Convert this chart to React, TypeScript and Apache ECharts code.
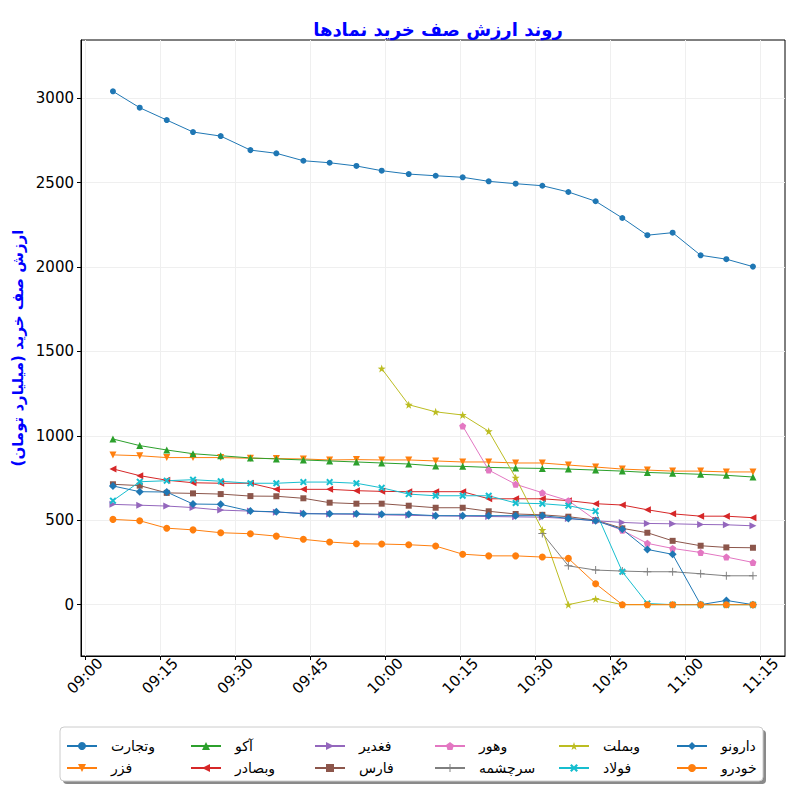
import { useEffect, useRef } from "react";
import * as echarts from "echarts";

const times = [
  "09:05:35", "09:10:56", "09:16:20", "09:21:35", "09:27:07", "09:33:03", "09:38:14",
  "09:43:38", "09:48:53", "09:54:14", "09:59:17", "10:04:41", "10:10:04", "10:15:28",
  "10:20:40", "10:26:03", "10:31:23", "10:36:35", "10:42:02", "10:47:22", "10:52:22",
  "10:57:25", "11:03:01", "11:08:09", "11:13:28",
];

const vtejarat = [3040, 2943, 2870, 2799, 2775, 2692, 2673, 2629, 2617, 2598, 2570, 2550, 2540, 2531, 2507, 2493, 2481, 2444, 2389, 2290, 2188, 2203, 2069, 2046, 2002];
const fazar = [887, 882, 871, 871, 871, 867, 865, 863, 857, 859, 857, 857, 851, 845, 845, 839, 839, 827, 815, 803, 797, 791, 791, 786, 786];
const akoo = [981, 942, 916, 894, 882, 869, 863, 857, 851, 845, 839, 833, 821, 819, 813, 809, 807, 803, 797, 791, 783, 778, 772, 766, 756];
const vbsader = [804, 764, 737, 722, 719, 719, 683, 683, 683, 675, 671, 669, 669, 669, 627, 627, 627, 616, 598, 590, 562, 538, 524, 524, 515];
const fghadir = [594, 589, 584, 575, 560, 554, 548, 541, 537, 535, 532, 529, 526, 524, 522, 520, 518, 510, 497, 487, 481, 479, 475, 473, 467];
const fars = [713, 705, 662, 659, 655, 643, 642, 630, 604, 598, 598, 586, 574, 574, 553, 537, 532, 521, 501, 452, 426, 378, 349, 339, 337];
const vahour = [null, null, null, null, null, null, null, null, null, null, null, null, null, 1058, 797, 713, 663, 616, 501, 440, 363, 333, 309, 282, 250];
const sarcheshmeh = [null, null, null, null, null, null, null, null, null, null, null, null, null, null, null, null, 422, 230, 205, 199, 195, 195, 183, 171, 171];
const vbmellat = [null, null, null, null, null, null, null, null, null, null, 1398, 1184, 1142, 1123, 1027, 752, 442, 0, 34, 0, 0, 0, 0, 0, 0];
const foolad = [616, 728, 734, 740, 731, 719, 719, 726, 726, 719, 692, 655, 645, 645, 645, 602, 598, 586, 554, 195, 7, 0, 0, 0, 0];
const daroono = [703, 669, 667, 596, 594, 554, 550, 538, 538, 538, 535, 535, 527, 527, 527, 527, 527, 511, 497, 446, 327, 298, 0, 25, 0];
const khodro = [505, 497, 453, 443, 426, 420, 406, 387, 371, 361, 359, 355, 347, 299, 289, 289, 282, 274, 124, 0, 0, 0, 0, 0, 0];

const yTicks = [0, 500, 1000, 1500, 2000, 2500, 3000];
// x ticks, minutes after 09:00
const xTicks = [0, 15, 30, 45, 60, 75, 90, 105, 120, 135];

const PENTAGON = "path://M0,-10 L9.51,-3.09 L5.88,8.09 L-5.88,8.09 L-9.51,-3.09 Z";
const STAR = "path://M0,-10 L2.35,-3.24 L9.51,-3.09 L3.8,1.24 L5.88,8.09 L0,4 L-5.88,8.09 L-3.8,1.24 L-9.51,-3.09 L-2.35,-3.24 Z";
const PLUS = "path://M-1.2,-10 L1.2,-10 L1.2,-1.2 L10,-1.2 L10,1.2 L1.2,1.2 L1.2,10 L-1.2,10 L-1.2,1.2 L-10,1.2 L-10,-1.2 L-1.2,-1.2 Z";
const XMARK = "path://M-10,-6 L-6,-10 L0,-4 L6,-10 L10,-6 L4,0 L10,6 L6,10 L0,4 L-6,10 L-10,6 L-4,0 Z";

// name, values, colour, symbol, size, rotate
const seriesDefs: [string, (number | null)[], string, string, number, number][] = [
  ["وتجارت", vtejarat, "#1f77b4", "circle", 6, 0],
  ["فزر", fazar, "#ff7f0e", "triangle", 7, 180],
  ["آکو", akoo, "#2ca02c", "triangle", 7, 0],
  ["وبصادر", vbsader, "#d62728", "triangle", 7, 90],
  ["فغدیر", fghadir, "#9467bd", "triangle", 7, -90],
  ["فارس", fars, "#8c564b", "rect", 6, 0],
  ["وهور", vahour, "#e377c2", PENTAGON, 7, 0],
  ["سرچشمه", sarcheshmeh, "#7f7f7f", PLUS, 8, 0],
  ["وبملت", vbmellat, "#bcbd22", STAR, 8, 0],
  ["فولاد", foolad, "#17becf", XMARK, 7, 0],
  ["دارونو", daroono, "#1f77b4", "diamond", 8, 0],
  ["خودرو", khodro, "#ff7f0e", "circle", 7, 0],
];

// legend columns (two entries each)
const legendColumns = [
  ["وتجارت", "فزر"],
  ["آکو", "وبصادر"],
  ["فغدیر", "فارس"],
  ["وهور", "سرچشمه"],
  ["وبملت", "فولاد"],
  ["دارونو", "خودرو"],
];
const legendLefts = [66, 190, 314, 434, 558, 676];

const toMin = (t: string) => {
  const [h, m, s] = t.split(":").map(Number);
  return (h - 9) * 60 + m + s / 60;
};

const fmtMin = (v: number) => {
  const total = Math.round(v);
  const h = 9 + Math.floor(total / 60);
  const m = total % 60;
  return `${String(h).padStart(2, "0")}:${String(m).padStart(2, "0")}`;
};

const FONT = "DejaVu Sans";

const App = () => {
  const chartRef = useRef<HTMLDivElement>(null);

  useEffect(() => {
    if (!chartRef.current) return;
    const chart = echarts.init(chartRef.current, null, { renderer: "svg" });

    const series = seriesDefs.map(([name, values, color, symbol, size, rot]) => ({
      name,
      type: "line",
      data: values
        .map((v, i) => (v === null ? null : [toMin(times[i]), v]))
        .filter((p) => p !== null),
      symbol,
      symbolSize: size,
      symbolRotate: rot,
      showSymbol: true,
      lineStyle: { width: 1, color },
      itemStyle: { color },
      emphasis: { disabled: true },
    }));

    const legends = legendColumns.map((col, i) => ({
      data: col,
      orient: "vertical",
      left: legendLefts[i],
      top: 739,
      padding: 0,
      itemWidth: 30,
      itemHeight: 10,
      itemGap: 8,
      textStyle: { fontSize: 14, color: "#000", fontFamily: FONT, padding: [0, 0, 0, 9] },
    }));

    chart.setOption({
      animation: false,
      backgroundColor: "#ffffff",
      textStyle: { fontFamily: FONT },
      title: {
        text: "روند ارزش صف خرید نمادها",
        left: 433,
        top: 15,
        textAlign: "center",
        textStyle: { color: "#0000ff", fontSize: 18, fontWeight: "bold", fontFamily: FONT },
      },
      grid: {
        left: 81,
        right: 15,
        top: 40,
        bottom: 144,
        show: true,
        borderColor: "#000",
        borderWidth: 1,
        backgroundColor: "transparent",
      },
      xAxis: {
        type: "value",
        min: -0.8,
        max: 139.87,
        axisLine: { show: true, onZero: false, lineStyle: { color: "#000" } },
        axisTick: { show: true, length: 4, customValues: xTicks, lineStyle: { color: "#000" } },
        axisLabel: {
          customValues: xTicks,
          formatter: (v: number) => fmtMin(v),
          rotate: 45,
          align: "center",
          verticalAlign: "middle",
          margin: 20,
          color: "#000",
          fontSize: 15,
          fontFamily: FONT,
        },
        splitLine: { show: true, lineStyle: { color: "#efefef", width: 1 } },
      },
      yAxis: {
        type: "value",
        min: -304,
        max: 3344,
        axisLine: { show: true, onZero: false, lineStyle: { color: "#000" } },
        axisTick: { show: true, length: 4, customValues: yTicks, lineStyle: { color: "#000" } },
        axisLabel: {
          customValues: yTicks,
          formatter: (v: number) => String(v),
          color: "#000",
          fontSize: 15,
          fontFamily: FONT,
          margin: 7,
        },
        splitLine: { show: true, lineStyle: { color: "#efefef", width: 1 } },
      },
      legend: legends,
      graphic: [
        {
          type: "rect",
          shape: { x: 63, y: 730, width: 703, height: 54, r: 4 },
          style: { fill: "#8a8a8a" },
          z: -10,
          silent: true,
        },
        {
          type: "rect",
          shape: { x: 60, y: 727, width: 703, height: 54, r: 4 },
          style: { fill: "#ffffff", stroke: "#cccccc", lineWidth: 1 },
          z: -9,
          silent: true,
        },
        {
          type: "text",
          x: 18,
          y: 348,
          rotation: Math.PI / 2,
          style: {
            text: "ارزش صف خرید (میلیارد تومان)",
            fill: "#0000ff",
            fontSize: 15,
            fontWeight: "bold",
            fontFamily: FONT,
            align: "center",
            verticalAlign: "middle",
          },
        },
      ],
      series,
    });

    return () => {
      chart.dispose();
    };
  }, []);

  return (
    <div
      ref={chartRef}
      style={{ position: "absolute", left: 0, top: 0, width: "800px", height: "800px" }}
    />
  );
};

export default App;
